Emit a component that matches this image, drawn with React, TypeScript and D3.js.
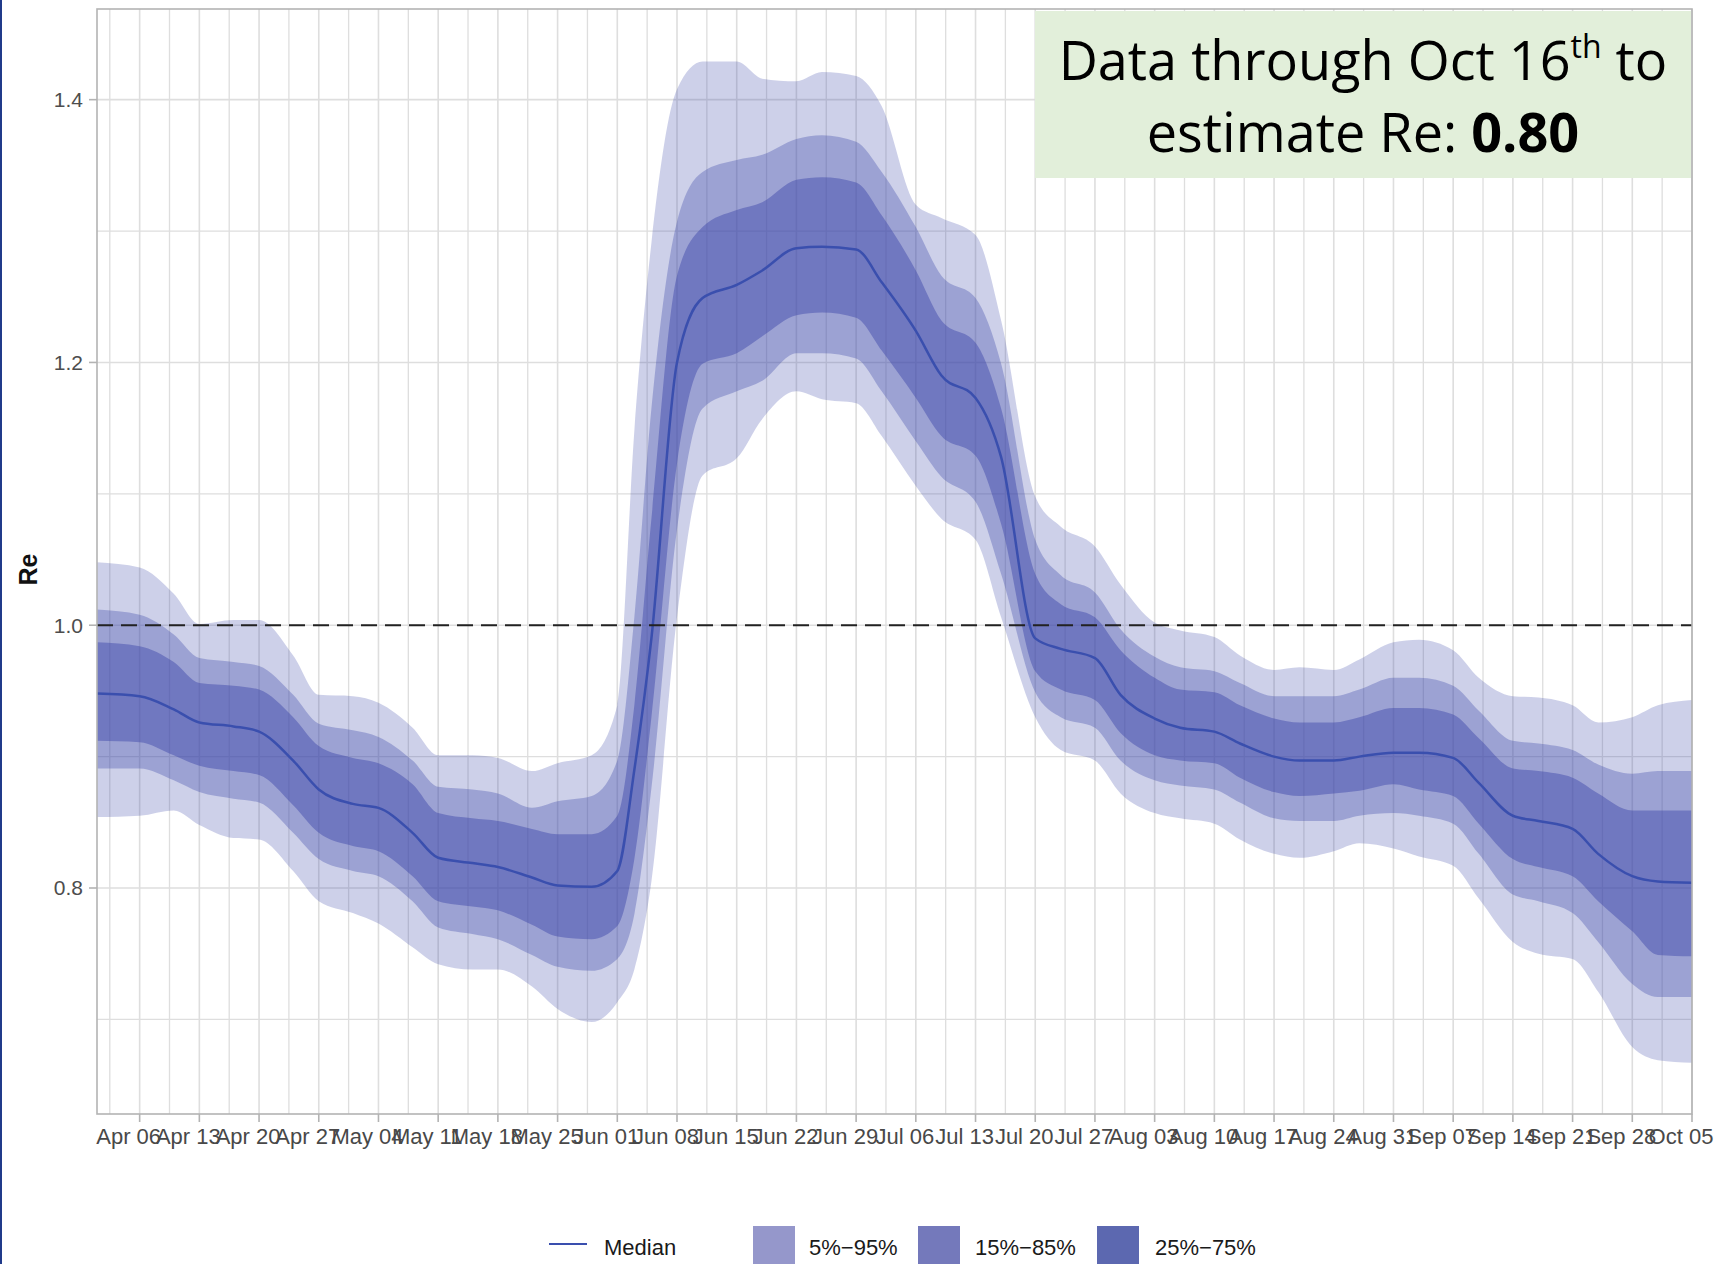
import React from 'react';
import * as d3 from 'd3';

// dates of the read points (2020)
const dates = [
  '2020-04-01', '2020-04-06', '2020-04-10', '2020-04-13', '2020-04-17', '2020-04-20', '2020-04-24', '2020-04-27',
  '2020-05-01', '2020-05-04', '2020-05-08', '2020-05-11', '2020-05-15', '2020-05-18', '2020-05-22', '2020-05-25', '2020-05-29',
  '2020-06-01', '2020-06-03', '2020-06-05', '2020-06-08', '2020-06-11', '2020-06-15', '2020-06-18', '2020-06-22', '2020-06-25', '2020-06-29',
  '2020-07-02', '2020-07-06', '2020-07-09', '2020-07-13', '2020-07-16', '2020-07-20', '2020-07-23', '2020-07-27', '2020-07-30',
  '2020-08-03', '2020-08-06', '2020-08-10', '2020-08-13', '2020-08-17', '2020-08-20', '2020-08-24', '2020-08-27', '2020-08-31',
  '2020-09-03', '2020-09-07', '2020-09-10', '2020-09-14', '2020-09-17', '2020-09-21', '2020-09-24', '2020-09-28',
  '2020-10-01', '2020-10-05',
];

const median = [
  0.948, 0.946, 0.936, 0.926, 0.923, 0.919, 0.897, 0.875,
  0.864, 0.861, 0.842, 0.823, 0.819, 0.816, 0.808, 0.802, 0.801,
  0.813, 0.89, 0.99, 1.2, 1.249, 1.259, 1.27, 1.287, 1.288, 1.286,
  1.261, 1.224, 1.19, 1.173, 1.128, 0.99, 0.982, 0.975, 0.947,
  0.929, 0.922, 0.919, 0.91, 0.9, 0.897, 0.897, 0.9, 0.903,
  0.903, 0.899, 0.88, 0.855, 0.851, 0.845, 0.826, 0.809,
  0.805, 0.804,
];

const q25 = [
  0.912, 0.911, 0.901, 0.893, 0.889, 0.886, 0.863, 0.842,
  0.832, 0.828, 0.809, 0.79, 0.786, 0.783, 0.772, 0.763, 0.761,
  0.771, 0.822, 0.93, 1.123, 1.199, 1.207, 1.22, 1.236, 1.238, 1.234,
  1.209, 1.173, 1.144, 1.129, 1.077, 0.965, 0.951, 0.943, 0.918,
  0.901, 0.897, 0.895, 0.884, 0.873, 0.87, 0.872, 0.874, 0.879,
  0.875, 0.87, 0.849, 0.822, 0.816, 0.809, 0.79, 0.767,
  0.749, 0.748,
];

const q75 = [
  0.987, 0.984, 0.972, 0.956, 0.954, 0.951, 0.93, 0.908,
  0.899, 0.895, 0.879, 0.857, 0.853, 0.851, 0.845, 0.841, 0.841,
  0.855, 0.939, 1.081, 1.266, 1.303, 1.316, 1.322, 1.339, 1.341, 1.337,
  1.312, 1.27, 1.232, 1.215, 1.165, 1.039, 1.016, 1.006, 0.981,
  0.96, 0.951, 0.949, 0.939, 0.929, 0.926, 0.926, 0.93, 0.937,
  0.937, 0.932, 0.914, 0.891, 0.889, 0.884, 0.872, 0.859,
  0.859, 0.859,
];

const q15 = [
  0.891, 0.891, 0.882, 0.873, 0.868, 0.865, 0.842, 0.822,
  0.813, 0.809, 0.79, 0.77, 0.765, 0.761, 0.749, 0.74, 0.737,
  0.746, 0.78, 0.876, 1.073, 1.165, 1.178, 1.186, 1.207, 1.207, 1.203,
  1.178, 1.14, 1.113, 1.094, 1.039, 0.949, 0.93, 0.922, 0.897,
  0.882, 0.878, 0.875, 0.865, 0.853, 0.851, 0.851, 0.855, 0.857,
  0.855, 0.849, 0.826, 0.795, 0.79, 0.781, 0.759, 0.727,
  0.717, 0.717,
];

const q85 = [
  1.012, 1.008, 0.993, 0.975, 0.972, 0.969, 0.947, 0.925,
  0.92, 0.915, 0.897, 0.877, 0.875, 0.872, 0.861, 0.866, 0.87,
  0.897, 1.006, 1.165, 1.307, 1.345, 1.354, 1.358, 1.37, 1.373, 1.368,
  1.345, 1.303, 1.266, 1.249, 1.199, 1.065, 1.038, 1.025, 0.997,
  0.976, 0.968, 0.965, 0.956, 0.946, 0.946, 0.946, 0.951, 0.96,
  0.96, 0.954, 0.935, 0.912, 0.91, 0.905, 0.894, 0.887,
  0.889, 0.889,
];

const q05 = [
  0.854, 0.855, 0.859, 0.848, 0.838, 0.837, 0.813, 0.79,
  0.781, 0.773, 0.755, 0.742, 0.738, 0.738, 0.725, 0.708, 0.698,
  0.713, 0.738, 0.805, 1.006, 1.114, 1.127, 1.157, 1.178, 1.172, 1.169,
  1.144, 1.106, 1.081, 1.065, 1.006, 0.93, 0.905, 0.897, 0.872,
  0.857, 0.853, 0.849, 0.837, 0.826, 0.823, 0.828, 0.834, 0.83,
  0.824, 0.817, 0.792, 0.759, 0.75, 0.746, 0.721, 0.679,
  0.669, 0.667,
];

const q95 = [
  1.048, 1.044, 1.024, 1.001, 1.004, 1.004, 0.977, 0.947,
  0.946, 0.941, 0.922, 0.901, 0.901, 0.899, 0.889, 0.895, 0.901,
  0.939, 1.148, 1.291, 1.408, 1.429, 1.429, 1.416, 1.414, 1.421, 1.418,
  1.395, 1.32, 1.31, 1.297, 1.232, 1.098, 1.075, 1.06, 1.031,
  1.002, 0.996, 0.991, 0.977, 0.966, 0.968, 0.966, 0.974, 0.987,
  0.989, 0.981, 0.96, 0.946, 0.945, 0.939, 0.926, 0.93,
  0.939, 0.943,
];

const yTicks = [0.8, 1.0, 1.2, 1.4];
const yMinor = [0.7, 0.9, 1.1, 1.3];
const legendLabels = ['Median', '5%\u221295%', '15%\u221285%', '25%\u221275%'];

const W = 1727, H = 1264;
const left = 97, right = 1692, top = 9, bottom = 1114;
const font = '"Liberation Sans", Arial, sans-serif';

export default function App() {
  const parse = d3.timeParse('%Y-%m-%d');
  const days = dates.map(d => parse(d) as Date);
  const x = d3.scaleTime()
    .domain([parse('2020-04-01') as Date, parse('2020-10-05') as Date])
    .range([left, right]);
  const y = d3.scaleLinear().domain([0.628, 1.469]).range([bottom, top]);

  const weeks = d3.timeMonday.range(x.domain()[0], d3.timeDay.offset(x.domain()[1], 1));
  const halfWeeks = weeks.map(d => new Date(d.getTime() - 3.5 * 864e5));
  const fmt = d3.timeFormat('%b %d');

  const band = (lo: number[], hi: number[]) =>
    d3.area<number>()
      .x((_, i) => x(days[i]))
      .y0((_, i) => y(lo[i]))
      .y1((_, i) => y(hi[i]))
      .curve(d3.curveMonotoneX)(median) as string;

  const medLine = d3.line<number>()
    .x((_, i) => x(days[i]))
    .y(d => y(d))
    .curve(d3.curveMonotoneX)(median) as string;

  const grid = '#dedede';

  return (
    <svg width={W} height={H} style={{ position: 'absolute', left: 0, top: 0, background: '#fff' }}
      fontFamily={font}>
      <defs>
        <clipPath id="panel">
          <rect x={left} y={top} width={right - left} height={bottom - top} />
        </clipPath>
      </defs>
      <rect x={0} y={0} width={W} height={H} fill="#fff" />
      <rect x={0} y={0} width={2} height={H} fill="#203a8a" />

      {/* grid */}
      {yMinor.map(v => (
        <line key={'ym' + v} x1={left} x2={right} y1={y(v)} y2={y(v)} stroke={grid} strokeWidth={1.3} />
      ))}
      {yTicks.map(v => (
        <line key={'y' + v} x1={left} x2={right} y1={y(v)} y2={y(v)} stroke={grid} strokeWidth={1.6} />
      ))}
      {halfWeeks.filter(d => x(d) > left).map(d => (
        <line key={'xm' + d.getTime()} x1={x(d)} x2={x(d)} y1={top} y2={bottom} stroke={grid} strokeWidth={1.3} />
      ))}
      {weeks.map(d => (
        <line key={'x' + d.getTime()} x1={x(d)} x2={x(d)} y1={top} y2={bottom} stroke={grid} strokeWidth={1.6} />
      ))}

      {/* ribbons */}
      <g clipPath="url(#panel)">
        <path d={band(q05, q95)} fill="rgb(63,72,170)" fillOpacity={0.26} />
        <path d={band(q15, q85)} fill="rgb(63,72,170)" fillOpacity={0.34} />
        <path d={band(q25, q75)} fill="rgb(63,72,170)" fillOpacity={0.47} />
        <path d={medLine} fill="none" stroke="#3a4fae" strokeWidth={2.5} />
      </g>

      <line x1={left} x2={right} y1={y(1)} y2={y(1)} stroke="#222" strokeWidth={2} strokeDasharray="16 8" />
      <rect x={left} y={top} width={right - left} height={bottom - top} fill="none" stroke="#b3b3b3" strokeWidth={1.6} />

      {/* y axis */}
      {yTicks.map(v => (
        <g key={'yt' + v}>
          <line x1={left - 8} x2={left} y1={y(v)} y2={y(v)} stroke="#b3b3b3" strokeWidth={1.6} />
          <text x={left - 14} y={y(v)} dy="0.35em" textAnchor="end" fontSize={21} fill="#4d4d4d">
            {v.toFixed(1)}
          </text>
        </g>
      ))}
      <text transform={`translate(37,${(top + bottom) / 2 + 8}) rotate(-90)`} textAnchor="middle"
        fontSize={25} fontWeight="bold" fill="#111">Re</text>

      {/* x axis */}
      {weeks.map(d => (
        <g key={'xt' + d.getTime()}>
          <line x1={x(d)} x2={x(d)} y1={bottom} y2={bottom + 8} stroke="#b3b3b3" strokeWidth={1.6} />
          <text x={x(d) - 11} y={bottom + 30} textAnchor="middle" fontSize={22} fill="#484848">{fmt(d)}</text>
        </g>
      ))}

      {/* annotation */}
      <rect x={1035} y={11} width={656} height={167} fill="#e2efda" />
      <text x={1363} y={80} textAnchor="middle" fontSize={54} fill="#000"
        fontFamily='"Open Sans", "Noto Sans", sans-serif'>
        Data through Oct 16<tspan dy={-22} fontSize={32}>th</tspan><tspan dy={22}> to</tspan>
      </text>
      <text x={1363} y={152} textAnchor="middle" fontSize={54} fill="#000"
        fontFamily='"Open Sans", "Noto Sans", sans-serif'>
        estimate Re: <tspan fontWeight="bold">0.80</tspan>
      </text>

      {/* legend */}
      <line x1={549} x2={587} y1={1244} y2={1244} stroke="#3a4fae" strokeWidth={2} />
      <text x={604} y={1255} fontSize={22} fill="#1a1a1a">{legendLabels[0]}</text>
      <rect x={753} y={1226} width={42} height={42} fill="#9597cb" />
      <text x={809} y={1255} fontSize={22} fill="#1a1a1a">{legendLabels[1]}</text>
      <rect x={918} y={1226} width={42} height={42} fill="#7479bb" />
      <text x={975} y={1255} fontSize={22} fill="#1a1a1a">{legendLabels[2]}</text>
      <rect x={1097} y={1226} width={42} height={42} fill="#5c68b0" />
      <text x={1155} y={1255} fontSize={22} fill="#1a1a1a">{legendLabels[3]}</text>
    </svg>
  );
}
